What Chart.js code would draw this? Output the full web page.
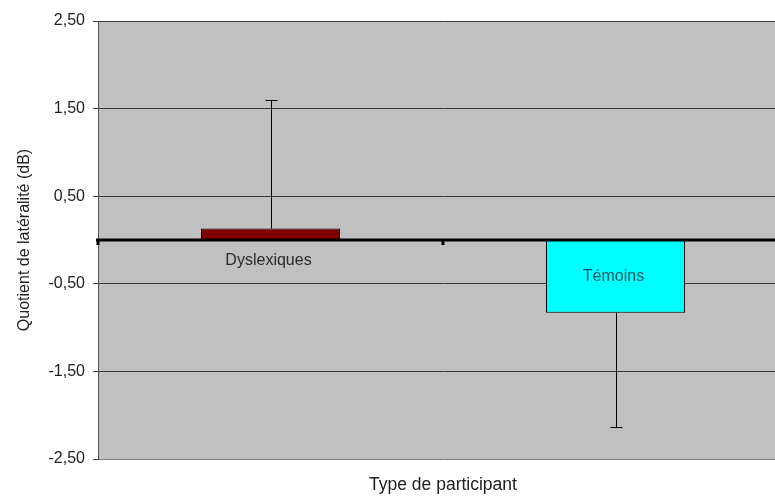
<!DOCTYPE html>
<html>
<head>
<meta charset="utf-8">
<script src="https://cdn.jsdelivr.net/npm/chart.js@4/dist/chart.umd.min.js"></script>
<style>
  html, body { margin: 0; padding: 0; background: #fff; overflow: hidden; }
  #wrap { width: 788px; height: 496px; }
</style>
</head>
<body>
<div id="wrap"><canvas id="chart" width="788" height="496"></canvas></div>
<script>
const categories = ['Dyslexiques', 'Témoins'];
const means = [0.13, -0.83];
const errPlus = [1.47, 0];
const errMinus = [0, 1.30];
const yTicks = [-2.5, -1.5, -0.5, 0.5, 1.5, 2.5];
const barColors = ['#800000', '#00ffff'];
const labelColors = ['#2a2a2a', '#1c5860'];

Chart.defaults.font.family = '"Liberation Sans", Arial, sans-serif';

// gray plot area, zero line, error bars and the in-chart category labels
const excelLook = {
  id: 'excelLook',
  beforeDraw(chart) {
    const { ctx, chartArea } = chart;
    ctx.save();
    ctx.fillStyle = '#c0c0c0';
    ctx.fillRect(chartArea.left, chartArea.top, chartArea.right - chartArea.left, chartArea.bottom - chartArea.top);
    ctx.restore();
  },
  afterDatasetsDraw(chart) {
    const { ctx, chartArea } = chart;
    const x = chart.scales.x, y = chart.scales.y;
    const meta = chart.getDatasetMeta(0);
    const zero = y.getPixelForValue(0);
    ctx.save();

    // error bars
    ctx.strokeStyle = '#000';
    ctx.lineWidth = 1;
    meta.data.forEach((bar, i) => {
      const cx = Math.round(bar.x) + 0.5;
      const ends = [];
      if (errPlus[i]) ends.push(y.getPixelForValue(means[i] + errPlus[i]));
      if (errMinus[i]) ends.push(y.getPixelForValue(means[i] - errMinus[i]));
      ends.forEach(e => {
        const ye = Math.round(e) + 0.5;
        ctx.beginPath();
        ctx.moveTo(cx, bar.y);
        ctx.lineTo(cx, ye);
        ctx.moveTo(cx - 6, ye);
        ctx.lineTo(cx + 6, ye);
        ctx.stroke();
      });
    });

    // zero line with category tick marks
    ctx.lineWidth = 3;
    ctx.beginPath();
    ctx.moveTo(chartArea.left - 2, zero);
    ctx.lineTo(chartArea.right, zero);
    ctx.stroke();
    const half = (x.getPixelForValue(1) - x.getPixelForValue(0)) / 2;
    ctx.beginPath();
    for (let i = 0; i <= categories.length; i++) {
      const px = x.getPixelForValue(i) - half;
      ctx.moveTo(px, zero);
      ctx.lineTo(px, zero + 5);
    }
    ctx.stroke();

    // category labels
    ctx.font = '16px "Liberation Sans", Arial, sans-serif';
    ctx.textAlign = 'center';
    ctx.textBaseline = 'middle';
    meta.data.forEach((bar, i) => {
      const mid = (bar.y + bar.base) / 2;
      ctx.fillStyle = labelColors[i];
      ctx.fillText(categories[i], bar.x - 2, Math.max(mid, zero + 21));
    });
    ctx.restore();
  }
};

new Chart(document.getElementById('chart'), {
  type: 'bar',
  data: {
    labels: categories,
    datasets: [{
      data: means,
      backgroundColor: barColors,
      borderColor: '#000',
      borderWidth: 1,
      borderSkipped: false,
      categoryPercentage: 1,
      barPercentage: 0.403
    }]
  },
  options: {
    responsive: false,
    animation: false,
    layout: { padding: { top: 21, right: 0, left: 0, bottom: 0 } },
    plugins: {
      legend: { display: false },
      tooltip: { enabled: false }
    },
    scales: {
      x: {
        grid: { display: false },
        border: { display: false },
        ticks: { display: false },
        title: {
          display: true,
          text: 'Type de participant',
          color: '#222',
          font: { size: 17.5 },
          padding: { top: 0, bottom: 0 }
        },
        afterFit(scale) { scale.height = 37; }
      },
      y: {
        min: -2.5,
        max: 2.5,
        afterBuildTicks(scale) { scale.ticks = yTicks.map(v => ({ value: v })); },
        ticks: {
          color: '#222',
          font: { size: 16 },
          padding: 8,
          callback: v => v.toFixed(2).replace('.', ',')
        },
        grid: {
          color: ctx => (ctx.tick && ctx.tick.value === -2.5 ? '#808080' : '#3a3a3a'),
          tickColor: '#3a3a3a',
          tickLength: 5,
          lineWidth: 1
        },
        border: { display: true, color: '#505050', width: 1 },
        title: {
          display: true,
          text: 'Quotient de latéralité (dB)',
          color: '#222',
          font: { size: 16 },
          padding: { top: 15, bottom: 0 }
        },
        afterFit(scale) { scale.width = 98; }
      }
    }
  },
  plugins: [excelLook]
});
</script>
</body>
</html>
